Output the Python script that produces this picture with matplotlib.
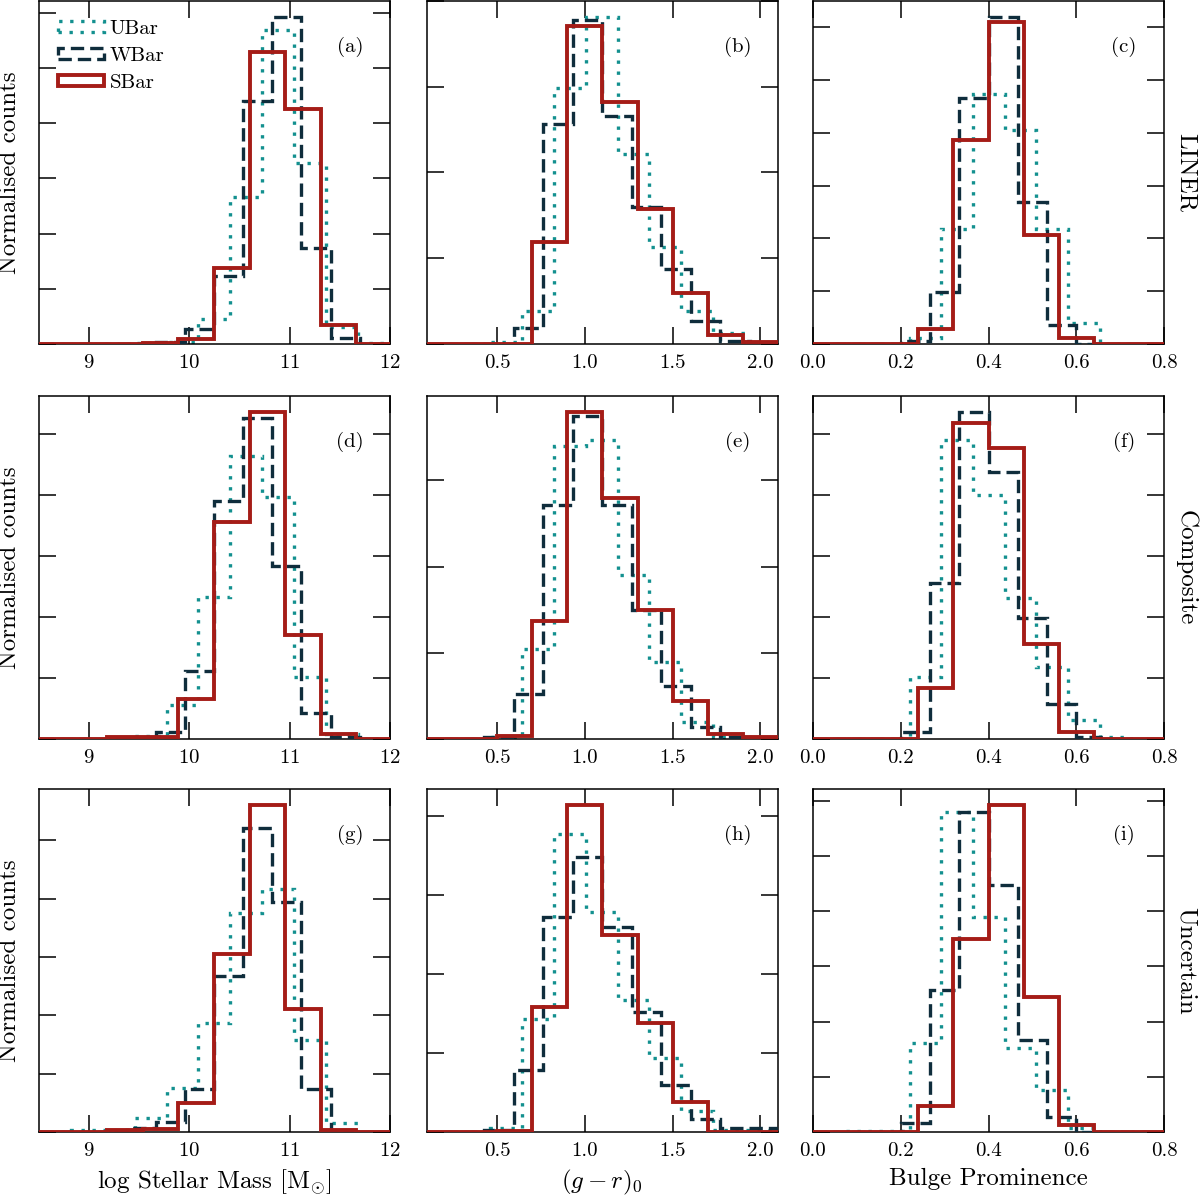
import numpy as np
import matplotlib
matplotlib.use("Agg")
import matplotlib.pyplot as plt
from matplotlib.ticker import MultipleLocator

plt.rcParams["font.family"] = ["cmr10", "DejaVu Serif"]
plt.rcParams["mathtext.fontset"] = "cm"
plt.rcParams["axes.unicode_minus"] = False
plt.rcParams["axes.formatter.use_mathtext"] = True

# bin edges per property (one set per bar class)
mass_edges = {
    "UBar": [8.5, 8.818, 9.136, 9.454, 9.772, 10.09, 10.408, 10.726, 11.044, 11.362, 11.68, 11.998],
    "WBar": [8.507, 8.797, 9.087, 9.377, 9.667, 9.957, 10.247, 10.537, 10.827, 11.117, 11.407, 11.697, 11.987],
    "SBar": [8.47, 8.825, 9.18, 9.535, 9.89, 10.245, 10.6, 10.955, 11.31, 11.665, 12.02],
}
colour_edges = {
    "UBar": [0.1, 0.281, 0.462, 0.643, 0.824, 1.005, 1.186, 1.367, 1.548, 1.729, 1.91, 2.091],
    "WBar": [0.091, 0.259, 0.427, 0.595, 0.763, 0.931, 1.099, 1.267, 1.435, 1.603, 1.771, 1.939, 2.107],
    "SBar": [0.1, 0.3, 0.5, 0.7, 0.9, 1.1, 1.3, 1.5, 1.7, 1.9, 2.1],
}
bulge_edges = {
    "UBar": [0.0034, 0.0756, 0.1478, 0.22, 0.2922, 0.3644, 0.4366, 0.5088, 0.581, 0.6532, 0.7254, 0.7976],
    "WBar": [0.0, 0.0667, 0.1333, 0.2, 0.2667, 0.3333, 0.4, 0.4667, 0.5333, 0.6, 0.6667, 0.7333, 0.8],
    "SBar": [0.0, 0.08, 0.16, 0.24, 0.32, 0.40, 0.48, 0.56, 0.64, 0.72, 0.80],
}

# normalised counts (density), rows: LINER, Composite, Uncertain
mass_liner = {
    "UBar": [0, 0, 0, 0.005, 0.0075, 0.1125, 0.665, 1.4225, 0.82, 0.075, 0.005],
    "WBar": [0, 0, 0, 0, 0.0075, 0.07, 0.3075, 1.10, 1.48, 0.435, 0.0275, 0],
    "SBar": [0, 0, 0, 0.005, 0.0225, 0.345, 1.325, 1.065, 0.0875, 0],
}
mass_comp = {
    "UBar": [0, 0, 0, 0.0125, 0.1375, 0.58, 1.16, 0.99, 0.255, 0.0225, 0],
    "WBar": [0, 0, 0, 0, 0.0275, 0.2775, 0.975, 1.315, 0.7075, 0.1075, 0.0075, 0],
    "SBar": [0, 0, 0.0075, 0.0075, 0.165, 0.89, 1.3375, 0.4275, 0.0225, 0],
}
mass_unc = {
    "UBar": [0, 0.01, 0.0075, 0.06, 0.1875, 0.4675, 0.9375, 1.0425, 0.395, 0.0375, 0],
    "WBar": [0, 0, 0, 0.0175, 0.045, 0.1825, 0.6675, 1.305, 0.985, 0.1825, 0.01, 0],
    "SBar": [0, 0, 0.0075, 0.0125, 0.1225, 0.765, 1.4, 0.5275, 0.01, 0],
}
colour_liner = {
    "UBar": [0, 0, 0.01, 0.19, 1.49, 1.905, 1.11, 0.565, 0.19, 0.065, 0.005],
    "WBar": [0, 0, 0, 0.095, 1.28, 1.89, 1.33, 0.80, 0.44, 0.135, 0.02, 0],
    "SBar": [0, 0, 0, 0.595, 1.855, 1.41, 0.785, 0.30, 0.05, 0.01],
}
colour_comp = {
    "UBar": [0, 0, 0.01, 0.525, 1.70, 1.735, 0.95, 0.445, 0.10, 0.01, 0],
    "WBar": [0, 0, 0.01, 0.26, 1.36, 1.875, 1.36, 0.75, 0.305, 0.07, 0.01, 0],
    "SBar": [0, 0, 0.015, 0.685, 1.895, 1.40, 0.75, 0.22, 0.03, 0.01],
}
colour_unc = {
    "UBar": [0, 0, 0.025, 0.715, 1.89, 1.395, 0.835, 0.47, 0.135, 0.015, 0.01],
    "WBar": [0, 0, 0.015, 0.39, 1.36, 1.745, 1.30, 0.76, 0.295, 0.085, 0.025, 0.025],
    "SBar": [0, 0, 0.005, 0.79, 2.07, 1.25, 0.69, 0.19, 0, 0],
}
bulge_liner = {
    "UBar": [0, 0, 0, 0.11, 2.18, 4.74, 4.06, 2.17, 0.40, 0, 0],
    "WBar": [0, 0, 0, 0.05, 0.99, 4.67, 6.19, 2.69, 0.36, 0, 0, 0],
    "SBar": [0, 0, 0, 0.28, 3.86, 6.11, 2.06, 0.11, 0, 0],
}
bulge_comp = {
    "UBar": [0, 0, 0, 1.01, 4.89, 4.0, 2.31, 1.18, 0.31, 0.03, 0],
    "WBar": [0, 0, 0, 0.11, 2.55, 5.35, 4.38, 1.98, 0.58, 0.03, 0, 0],
    "SBar": [0, 0, 0, 0.83, 5.18, 4.76, 1.56, 0.11, 0, 0],
}
bulge_unc = {
    "UBar": [0, 0.02, 0.02, 1.61, 5.80, 3.90, 1.52, 0.77, 0.07, 0, 0],
    "WBar": [0, 0, 0, 0.16, 2.57, 5.80, 4.47, 1.67, 0.27, 0, 0, 0],
    "SBar": [0, 0, 0, 0.48, 3.49, 5.92, 2.45, 0.13, 0, 0],
}

rows = ["LINER", "Composite", "Uncertain"]
panel_tags = ["(a)", "(b)", "(c)", "(d)", "(e)", "(f)", "(g)", "(h)", "(i)"]
columns = [
    (mass_edges, [mass_liner, mass_comp, mass_unc], (8.5, 12), [9, 10, 11, 12], 0.25,
     r"log Stellar Mass [M$_{\odot}$]"),
    (colour_edges, [colour_liner, colour_comp, colour_unc], (0.1, 2.1), [0.5, 1.0, 1.5, 2.0], 0.5,
     r"$(g-r)_0$"),
    (bulge_edges, [bulge_liner, bulge_comp, bulge_unc], (0.0, 0.8), [0.0, 0.2, 0.4, 0.6, 0.8], 1.0,
     "Bulge Prominence"),
]

styles = {
    "UBar": dict(color="#13908f", lw=2.4, linestyle=(0, (1.0, 2.3)), zorder=2),
    "WBar": dict(color="#0f2d3c", lw=2.4, linestyle=(0, (4.0, 1.8)), zorder=3),
    "SBar": dict(color="#a51c17", lw=2.8, linestyle="-", zorder=4),
}

fig = plt.figure(figsize=(12, 11.96), dpi=100)
lefts = [0.0325, 0.3558, 0.6775]
bottoms = [0.7124, 0.3821, 0.0535]
w, h = 0.2925, 0.2868

for r in range(3):
    for c in range(3):
        edges, data_rows, xlim, xticks, ystep, xlabel = columns[c]
        ax = fig.add_axes([lefts[c], bottoms[r], w, h])
        for name in ["UBar", "WBar", "SBar"]:
            e = np.array(edges[name])
            v = np.array(data_rows[r][name])
            ax.hist(e[:-1], bins=e, weights=v, histtype="step", label=name,
                    fill=False, **styles[name])
        ax.set_xlim(*xlim)
        ax.set_ylim(bottom=0)
        ax.set_xticks(xticks)
        if c == 1 or c == 2:
            ax.set_xticklabels([f"{t:.1f}" for t in xticks])
        ax.yaxis.set_major_locator(MultipleLocator(ystep))
        ax.set_yticklabels([])
        ax.tick_params(direction="in", length=12, width=1.1, top=True, right=True,
                       labelsize=15, pad=7)
        for s in ax.spines.values():
            s.set_linewidth(1.1)
        ax.text(0.886, 0.865, panel_tags[r * 3 + c], transform=ax.transAxes,
                ha="center", va="center", fontsize=15)
        if c == 0:
            ax.set_ylabel("Normalised counts", fontsize=18, labelpad=6)
        if c == 2:
            ax.text(1.062, 0.5, rows[r], transform=ax.transAxes, rotation=270,
                    ha="center", va="center", fontsize=18)
        if r == 2:
            ax.set_xlabel(xlabel, fontsize=18, labelpad=6)
        if r == 0 and c == 0:
            ax.legend(loc="upper left", frameon=False, fontsize=15,
                      handlelength=2.2, handleheight=0.45, handletextpad=0.3,
                      labelspacing=0.45)

fig.savefig("out.png", dpi=100)
